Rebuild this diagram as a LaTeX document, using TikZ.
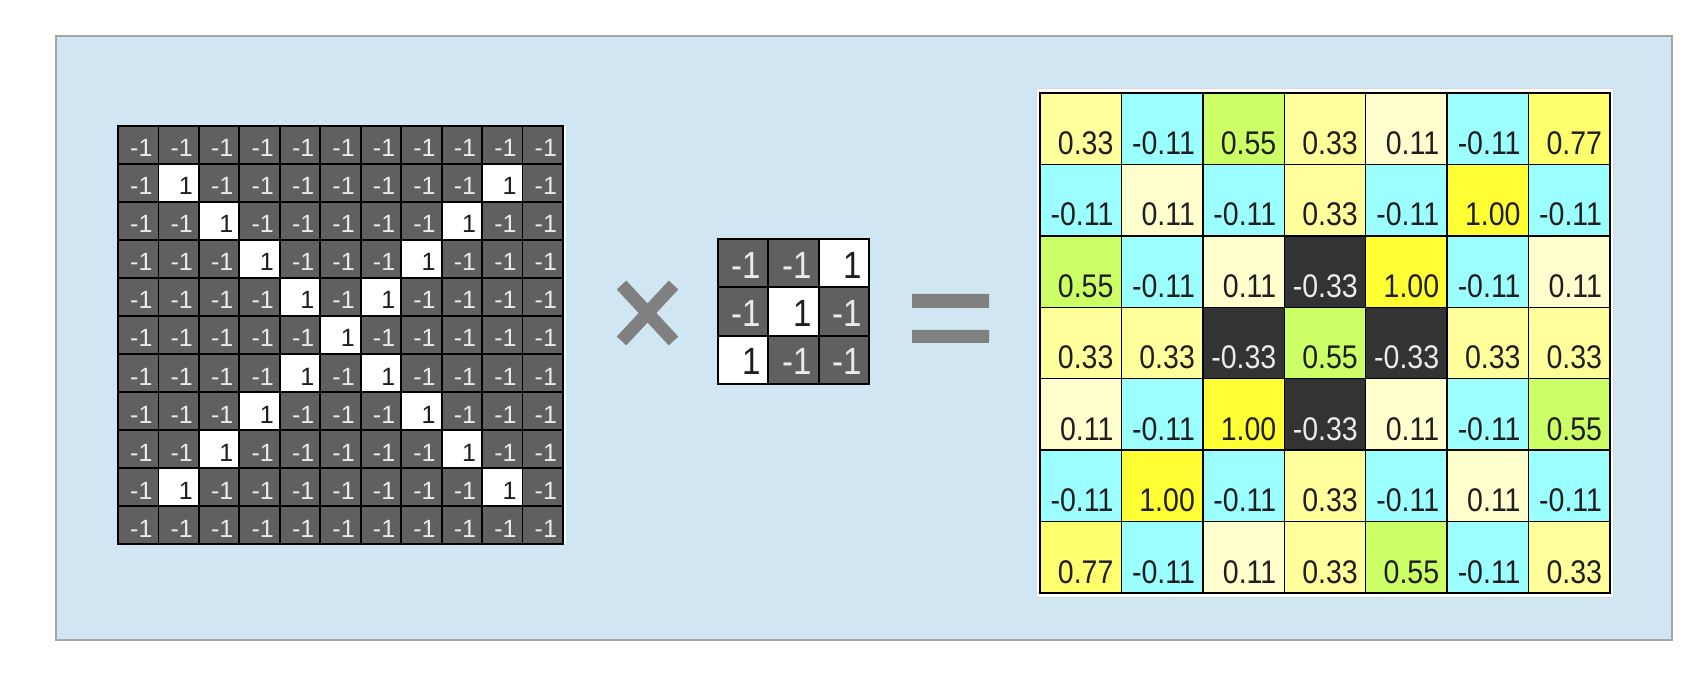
\documentclass[tikz,border=0pt]{standalone}
\usepackage{graphicx}
\usepackage{fontspec}
\setmainfont{Liberation Sans}
\usetikzlibrary{positioning}

\definecolor{panel}{RGB}{208,230,242}
\definecolor{panelline}{RGB}{166,166,166}
\definecolor{cellgray}{RGB}{96,96,96}
\definecolor{signgray}{RGB}{128,128,128}
\definecolor{numtext}{RGB}{30,30,30}
\definecolor{vdark}{RGB}{51,51,51}
\definecolor{vcyan}{RGB}{155,255,255}
\definecolor{vpale}{RGB}{255,255,206}
\definecolor{vlight}{RGB}{255,255,155}
\definecolor{vmid}{RGB}{255,255,110}
\definecolor{vgreen}{RGB}{204,255,102}
\definecolor{vyellow}{RGB}{255,255,51}

\newcommand{\tallnum}[1]{\scalebox{1}[1.15]{#1}}

\begin{document}
\begin{tikzpicture}[x=1pt,y=-1pt,
    incell/.style={draw=black,line width=1.8pt,inner xsep=6pt,inner ysep=0pt,
      text width=28.45pt,align=right,text height=31pt,text depth=7pt,
      font=\fontsize{25}{25}\selectfont},
    inneg/.style={incell,fill=cellgray,text=white!92!black},
    inone/.style={incell,fill=white,text=numtext},
    kcell/.style={incell,inner xsep=7pt,text width=36.33pt,
      text height=39.33pt,text depth=9pt,font=\fontsize{33}{33}\selectfont},
    kneg/.style={kcell,fill=cellgray,text=white!92!black},
    kone/.style={kcell,fill=white,text=numtext},
    outcell/.style={draw=black,line width=1.5pt,inner xsep=8pt,inner ysep=0pt,
      text width=65.43pt,align=right,text height=61.43pt,text depth=10pt,
      text=numtext,font=\fontsize{28.5}{28.5}\selectfont},
    vlt/.style={fill=vlight}, vcy/.style={fill=vcyan}, vgr/.style={fill=vgreen},
    vpl/.style={fill=vpale}, vmd/.style={fill=vmid}, vye/.style={fill=vyellow},
    vdk/.style={fill=vdark,text=white!92!black},
    sign/.style={draw=signgray,line width=13pt}]

  \useasboundingbox (0,0) rectangle (1698,676);
  \draw[fill=panel,draw=panelline,line width=2.5pt] (56,36) rectangle (1672,640);

  % input image
  \fill[white] (118,126) rectangle (566,544);
  \foreach \r in {0,...,10}
    \foreach \c in {0,...,10} {
      \pgfmathtruncatemacro\hit{(\r>0)&&(\r<10)&&((\r==\c)||(\r+\c==10))}
      \ifnum\hit=1
        \node[inone] (in-\r-\c) at ({118+40.45*(\c+0.5)},{126+38*(\r+0.5)}) {1};
      \else
        \node[inneg] (in-\r-\c) at ({118+40.45*(\c+0.5)},{126+38*(\r+0.5)}) {-1};
      \fi
    }

  % times
  \draw[sign] (621.5,285) -- (673.5,341) (621.5,341) -- (673.5,285);

  % filter
  \foreach \row [count=\r from 0] in {{-1,-1,1},{-1,1,-1},{1,-1,-1}}
    \foreach \v [count=\c from 0] in \row {
      \ifnum\v=1
        \node[kone] (k-\r-\c) at ({718+50.33*(\c+0.5)},{239+48.33*(\r+0.5)}) {\tallnum{1}};
      \else
        \node[kneg] (k-\r-\c) at ({718+50.33*(\c+0.5)},{239+48.33*(\r+0.5)}) {\tallnum{-1}};
      \fi
    }

  % equals
  \fill[signgray] (912,294) rectangle (989,308) (912,330) rectangle (989,343);

  % feature map
  \draw[fill=white,draw=black!15,line width=1pt] (1036,89) rectangle (1613,597);
  \foreach \row [count=\r from 0] in {%
      {0.33/vlt,-0.11/vcy,0.55/vgr,0.33/vlt,0.11/vpl,-0.11/vcy,0.77/vmd},%
      {-0.11/vcy,0.11/vpl,-0.11/vcy,0.33/vlt,-0.11/vcy,1.00/vye,-0.11/vcy},%
      {0.55/vgr,-0.11/vcy,0.11/vpl,-0.33/vdk,1.00/vye,-0.11/vcy,0.11/vpl},%
      {0.33/vlt,0.33/vlt,-0.33/vdk,0.55/vgr,-0.33/vdk,0.33/vlt,0.33/vlt},%
      {0.11/vpl,-0.11/vcy,1.00/vye,-0.33/vdk,0.11/vpl,-0.11/vcy,0.55/vgr},%
      {-0.11/vcy,1.00/vye,-0.11/vcy,0.33/vlt,-0.11/vcy,0.11/vpl,-0.11/vcy},%
      {0.77/vmd,-0.11/vcy,0.11/vpl,0.33/vlt,0.55/vgr,-0.11/vcy,0.33/vlt}}
    \foreach \v/\s [count=\c from 0] in \row
      \node[outcell,\s] (out-\r-\c) at ({1040+81.43*(\c+0.5)},{93+71.43*(\r+0.5)}) {\tallnum{\v}};
\end{tikzpicture}
\end{document}
